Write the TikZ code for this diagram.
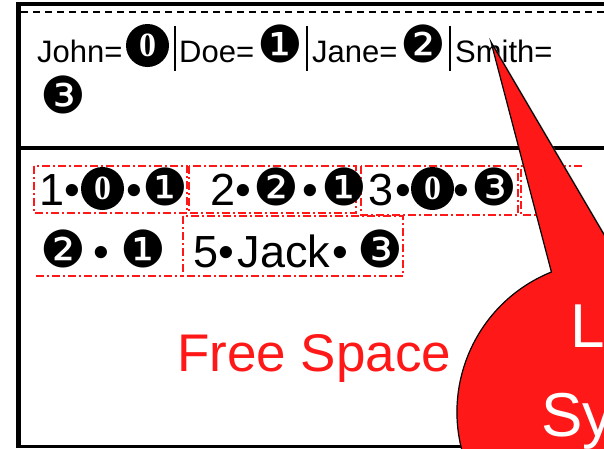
\documentclass[tikz,border=0pt]{standalone}
\usepackage{fontspec}
\setmainfont{Liberation Sans}
\newfontfamily\circfont{DejaVu Sans}
\newfontfamily\digitfont{Liberation Serif}
\usepackage{tikz}
\usetikzlibrary{shadows}
\definecolor{slidered}{RGB}{255,24,24}
\newcommand\cnum[1]{\kern3pt{\circfont\fontsize{51}{51}\selectfont #1}\kern3pt}

\begin{document}
\begin{tikzpicture}[x=1pt, y=-1pt,
    txt/.style={anchor=base west, inner sep=0pt, font=\fontsize{31}{36}\selectfont},
    rec/.style={anchor=base west, inner sep=0pt, font=\fontsize{45}{50}\selectfont},
    zero/.style={circle, fill=black, text=white, inner sep=0pt, minimum size=43pt, font=\digitfont\bfseries\fontsize{34}{34}\selectfont},
    recbox/.style={draw=slidered, line width=1.5pt, dash pattern=on 8pt off 3pt on 2pt off 3pt},
    bar/.style={line width=2.5pt},
    bubble/.style={fill=slidered, draw=black, line width=1.2pt, drop shadow={shadow xshift=3pt, shadow yshift=-3pt, fill=black!40}},
    bubtext/.style={anchor=base west, inner sep=0pt, text=white, font=\fontsize{62}{70}\selectfont}]

    \useasboundingbox (0,0) rectangle (604,448);
    \clip (0,0) rectangle (604,448);

    % record frame
    \draw[line width=3.5pt] (610,4) -- (16,4);
    \draw[line width=5pt] (18.5,2) -- (18.5,448);
    \draw[line width=4pt] (16,147.5) -- (610,147.5);
    \draw[line width=3.5pt] (16,446.5) -- (610,446.5);
    \draw[line width=1.5pt, dash pattern=on 7pt off 5pt] (21,12) -- (610,12);

    % symbol table
    \node[txt] (john) at (37,62) {John=};
    \node[zero] (johnid) at (147.5,45.5) {0};
    \node[txt] (doe) at (179,62) {Doe=\cnum{❶}};
    \node[txt] (jane) at (312,62) {Jane=\cnum{❷}};
    \node[txt] (smith) at (455,62) {Smith=};
    \node[txt] (three) at (37,113) {\cnum{❸}};
    \foreach \bx in {175,307,450}
        \draw[bar] (\bx,26) -- (\bx,71);

    % records
    \draw[recbox] (34,166) rectangle (187,213);
    \draw[recbox] (189,166) rectangle (356,213);
    \draw[recbox] (361,166) rectangle (518,215);
    \draw[recbox] (582,166) -- (521,166) -- (521,215) -- (582,215);
    \draw[recbox] (36,276) -- (183,276);
    \draw[recbox] (183,216) rectangle (403,276);

    \node[rec] (rec1) at (39,205) {1•};
    \node[zero] (rec1id) at (102.5,188.5) {0};
    \node[rec] (rec1b) at (122,205) {\kern4pt•\kern-2pt\cnum{❶}};
    \node[rec] (rec2) at (210,205) {2•\cnum{❷}•\cnum{❶}};
    \node[rec] (rec3) at (368,205) {3\kern2pt•};
    \node[zero] (rec3id) at (432.5,188.5) {0};
    \node[rec] (rec3b) at (453,205) {•\cnum{❸}};
    \node[rec] (rec4) at (37,267) {\cnum{❷} \kern5pt•\kern7.5pt\cnum{❶}};
    \node[rec] (rec5) at (193,267) {5•\kern4pt Jack\kern2pt•\kern6pt\cnum{❸}};

    \node[anchor=base west, inner sep=0pt, text=slidered, font=\fontsize{53}{60}\selectfont] (free) at (177,371) {Free Space};

    % callout
    \coordinate (tip) at (491,42);
    \draw[bubble] (tip) -- (551.4,272) arc[start angle=248, end angle=-85.5, radius=151] -- cycle;
    \node[bubtext] (lline) at (570,347) {L};
    \node[bubtext] (syline) at (541,436) {Sy};
\end{tikzpicture}
\end{document}
